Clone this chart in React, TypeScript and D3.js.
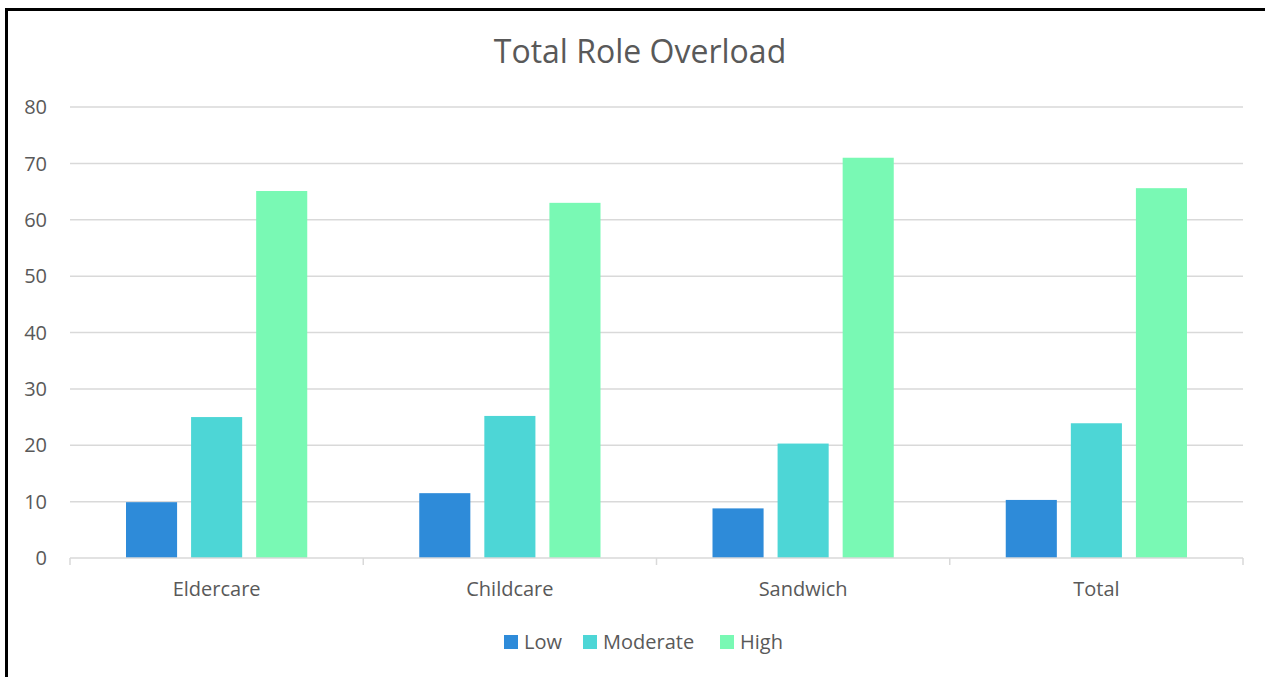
import * as d3 from "d3";
import React, { useEffect, useRef } from "react";

const categories = ["Eldercare", "Childcare", "Sandwich", "Total"];
const series = ["Low", "Moderate", "High"];
const lowValues = [9.9, 11.5, 8.8, 10.3];
const moderateValues = [25.0, 25.2, 20.3, 23.9];
const highValues = [65.1, 63.0, 71.0, 65.6];
const yTicks = [0, 10, 20, 30, 40, 50, 60, 70, 80];
const colors = ["#2E8BD9", "#4DD6D6", "#79F9B4"];

const width = 1265;
const height = 677;
const font = "'Open Sans', 'Noto Sans', sans-serif";

function App() {
  const ref = useRef<SVGSVGElement>(null);

  useEffect(() => {
    const svg = d3.select(ref.current);
    svg.selectAll("*").remove();

    const values = [lowValues, moderateValues, highValues];

    const x0 = d3.scaleBand().domain(categories).range([70, 1243]).padding(0);
    const x1 = d3
      .scaleBand()
      .domain(series)
      .range([56, x0.bandwidth() - 56])
      .paddingInner(0.215)
      .paddingOuter(0);
    const y = d3.scaleLinear().domain([0, 80]).range([558, 107]);

    // frame
    svg
      .append("rect")
      .attr("x", 6.5)
      .attr("y", 9.5)
      .attr("width", 1400)
      .attr("height", 1000)
      .attr("fill", "white")
      .attr("stroke", "black")
      .attr("stroke-width", 3);

    svg
      .append("text")
      .attr("x", 640)
      .attr("y", 63)
      .attr("text-anchor", "middle")
      .style("font-family", font)
      .style("font-size", "32px")
      .attr("fill", "#595959")
      .text("Total Role Overload");

    // gridlines
    svg
      .append("g")
      .selectAll("line")
      .data(yTicks.filter((t) => t > 0))
      .join("line")
      .attr("x1", 70)
      .attr("x2", 1243)
      .attr("y1", (d) => y(d))
      .attr("y2", (d) => y(d))
      .attr("stroke", "#D9D9D9")
      .attr("stroke-width", 1.5);

    svg
      .append("g")
      .selectAll("text")
      .data(yTicks)
      .join("text")
      .attr("x", 47)
      .attr("y", (d) => y(d))
      .attr("dy", "0.36em")
      .attr("text-anchor", "end")
      .style("font-family", font)
      .style("font-size", "20px")
      .attr("fill", "#595959")
      .text((d) => d);

    // bars
    const groups = svg
      .append("g")
      .selectAll("g")
      .data(categories)
      .join("g")
      .attr("transform", (d) => `translate(${x0(d)},0)`);

    groups
      .selectAll("rect")
      .data((c) => series.map((s, si) => ({ s, si, v: values[si][categories.indexOf(c)] })))
      .join("rect")
      .attr("x", (d) => x1(d.s)!)
      .attr("width", x1.bandwidth())
      .attr("y", (d) => y(d.v))
      .attr("height", (d) => y(0) - y(d.v))
      .attr("fill", (d) => colors[d.si]);

    // x axis
    svg
      .append("line")
      .attr("x1", 70)
      .attr("x2", 1243)
      .attr("y1", y(0))
      .attr("y2", y(0))
      .attr("stroke", "#D9D9D9")
      .attr("stroke-width", 1.5);

    const tickXs = categories.map((c) => x0(c)!).concat([1243]);
    svg
      .append("g")
      .selectAll("line")
      .data(tickXs)
      .join("line")
      .attr("x1", (d) => d)
      .attr("x2", (d) => d)
      .attr("y1", y(0))
      .attr("y2", y(0) + 7)
      .attr("stroke", "#D9D9D9")
      .attr("stroke-width", 1.5);

    svg
      .append("g")
      .selectAll("text")
      .data(categories)
      .join("text")
      .attr("x", (d) => x0(d)! + x0.bandwidth() / 2)
      .attr("y", 596)
      .attr("text-anchor", "middle")
      .style("font-family", font)
      .style("font-size", "20px")
      .attr("fill", "#595959")
      .text((d) => d);

    // legend
    const legendX = [504, 583, 720];
    const legend = svg
      .append("g")
      .selectAll("g")
      .data(series)
      .join("g")
      .attr("transform", (d, i) => `translate(${legendX[i]},635)`);
    legend
      .append("rect")
      .attr("width", 14)
      .attr("height", 14)
      .attr("fill", (d, i) => colors[i]);
    legend
      .append("text")
      .attr("x", 20)
      .attr("y", 14)
      .style("font-family", font)
      .style("font-size", "20px")
      .attr("fill", "#595959")
      .text((d) => d);
  }, []);

  return (
    <svg
      ref={ref}
      width={width}
      height={height}
      style={{ position: "absolute", left: 0, top: 0, background: "white" }}
    />
  );
}

export default App;
